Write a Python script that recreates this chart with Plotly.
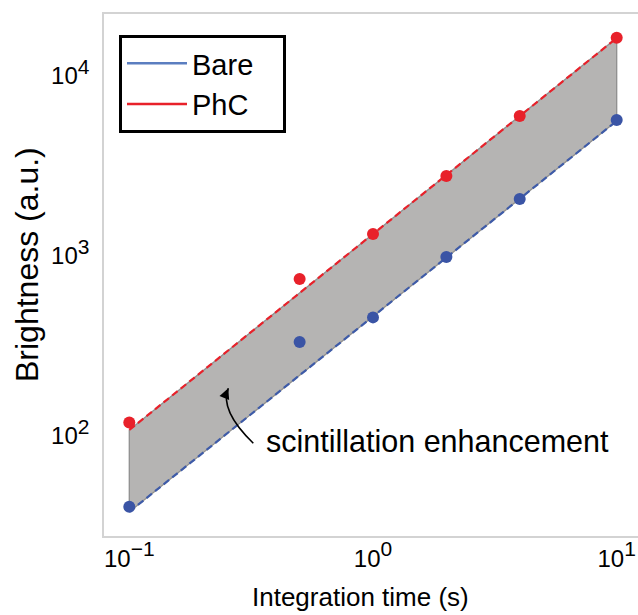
import plotly.graph_objects as go

# ---- data ----
time_s = [0.1, 0.5, 1, 2, 4, 10]
bare = [40.5, 333, 456, 987, 2075, 5700]
phc = [119, 745, 1325, 2783, 5995, 16330]

fit_x = [0.1, 10]
bare_fit = [37.9, 5623]
phc_fit = [108, 16250]

x_ticks = [0.1, 1, 10]
x_exp = ["\u22121", "0", "1"]
y_ticks = [100, 1000, 10000]
y_exp = ["2", "3", "4"]

x_title = "Integration time (s)"
y_title = "Brightness (a.u.)"

# ---- style ----
FONT = "Liberation Sans, Arial, sans-serif"
RED = "#e8212a"
BLUE_PT = "#3a54a5"
BLUE_LN = "#3e5ba8"
BLUE_LEG = "#5b7ec0"
FILL = "#b5b4b3"
EDGE = "#8f8f8f"
AXIS = "#d3d3d3"

W, H = 638, 615
L, R, T, B = 104, 0, 14, 79
PW, PH = W - L - R, H - T - B


def px(x):
    return (x - L) / PW


def py(y):
    return (H - B - y) / PH


def pow_label(e):
    return f"10<sup><span style='font-size:21px'>{e}</span></sup>"


fig = go.Figure()

# shaded enhancement region between the two fits
fig.add_trace(go.Scatter(
    x=[fit_x[0], fit_x[1], fit_x[1], fit_x[0], fit_x[0]],
    y=[bare_fit[0], bare_fit[1], phc_fit[1], phc_fit[0], bare_fit[0]],
    mode="lines", fill="toself", fillcolor=FILL,
    line=dict(color=EDGE, width=1.3), showlegend=False, hoverinfo="skip"))

# dashed fit lines
fig.add_trace(go.Scatter(x=fit_x, y=bare_fit, mode="lines",
                         line=dict(color=BLUE_LN, width=2.2, dash="7px,4px"),
                         showlegend=False))
fig.add_trace(go.Scatter(x=fit_x, y=phc_fit, mode="lines",
                         line=dict(color=RED, width=2.2, dash="7px,4px"),
                         showlegend=False))

# measured points
fig.add_trace(go.Scatter(x=time_s, y=bare, mode="markers",
                         marker=dict(color=BLUE_PT, size=12),
                         showlegend=False, cliponaxis=False))
fig.add_trace(go.Scatter(x=time_s, y=phc, mode="markers",
                         marker=dict(color=RED, size=12),
                         showlegend=False, cliponaxis=False))

# legend entries
fig.add_trace(go.Scatter(x=[None], y=[None], mode="lines", name="Bare\u00a0\u00a0\u00a0",
                         line=dict(color=BLUE_LEG, width=2.5)))
fig.add_trace(go.Scatter(x=[None], y=[None], mode="lines", name="PhC\u00a0\u00a0\u00a0",
                         line=dict(color=RED, width=2.5)))

# curved arrow
tail = (253.3, 443.3)
ctrl = (219.3, 410.2)
head = (228.3, 388.3)
fig.add_shape(type="path", xref="paper", yref="paper",
              path=f"M {px(tail[0])},{py(tail[1])} Q {px(ctrl[0])},{py(ctrl[1])} {px(head[0])},{py(head[1])}",
              line=dict(color="black", width=1.6))
fig.add_annotation(xref="paper", yref="paper", x=px(head[0]), y=py(head[1]),
                   ax=-3.8, ay=9.2, text="", showarrow=True, arrowhead=2,
                   arrowsize=1.3, arrowwidth=1.6, arrowcolor="black", standoff=0)

fig.add_annotation(xref="paper", yref="paper", x=px(437.5), y=py(441),
                   text="scintillation enhancement", showarrow=False,
                   xanchor="center", yanchor="middle",
                   font=dict(family=FONT, size=30.5, color="black"))

# axis titles
fig.add_annotation(xref="paper", yref="paper", x=px(360), y=py(597),
                   text=x_title, showarrow=False,
                   xanchor="center", yanchor="middle",
                   font=dict(family=FONT, size=26, color="black"))
fig.add_annotation(xref="paper", yref="paper", x=px(27), y=py(265),
                   text=y_title, showarrow=False, textangle=-90,
                   xanchor="center", yanchor="middle",
                   font=dict(family=FONT, size=32, color="black"))

fig.update_layout(
    width=W, height=H, autosize=False,
    margin=dict(l=L, r=R, t=T, b=B),
    paper_bgcolor="white", plot_bgcolor="white",
    font=dict(family=FONT, color="black"),
    legend=dict(x=px(119), y=py(35), xanchor="left", yanchor="top",
                bordercolor="black", borderwidth=3, bgcolor="white",
                font=dict(family=FONT, size=29, color="black"),
                itemwidth=60, tracegroupgap=0),
    showlegend=True,
)
fig.update_xaxes(type="log", range=[-1.1038, 1.0874],
                 tickvals=x_ticks, ticktext=[pow_label(e) for e in x_exp],
                 tickfont=dict(family=FONT, size=24, color="black"),
                 showline=True, linecolor=AXIS, linewidth=1.5, mirror=True,
                 showgrid=False, zeroline=False, ticks="")
fig.update_yaxes(type="log", range=[1.4444, 4.3444],
                 tickvals=y_ticks, ticktext=[pow_label(e) for e in y_exp],
                 tickfont=dict(family=FONT, size=24, color="black"),
                 showline=True, linecolor=AXIS, linewidth=1.5, mirror=False,
                 showgrid=False, zeroline=False, ticks="",
                 ticklabelstandoff=8)

fig.write_html("out.html")
